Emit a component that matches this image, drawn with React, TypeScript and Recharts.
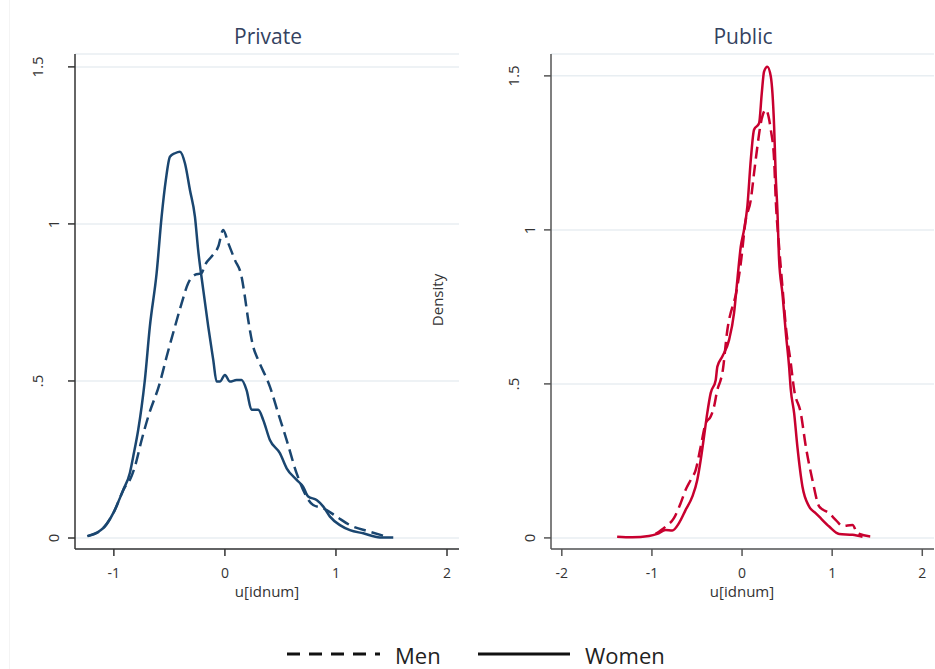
import React from "react";
import { LineChart, Line, XAxis, YAxis, CartesianGrid } from "recharts";

// kernel density estimates of u[idnum], [x, density]
const privateWomen: [number, number][] = [
	[-1.24, 0.006], [-1.126, 0.023], [-1.081, 0.036], [-1.006, 0.079], [-0.916, 0.153],
	[-0.856, 0.207], [-0.826, 0.259], [-0.781, 0.344], [-0.75, 0.418], [-0.721, 0.503],
	[-0.676, 0.673], [-0.615, 0.843], [-0.57, 1.023], [-0.532, 1.14], [-0.495, 1.214],
	[-0.45, 1.225], [-0.405, 1.23], [-0.36, 1.193], [-0.315, 1.108], [-0.27, 1.023],
	[-0.241, 0.917], [-0.195, 0.79], [-0.15, 0.673], [-0.105, 0.567], [-0.075, 0.498],
	[-0.045, 0.498], [0, 0.519], [0.045, 0.498], [0.105, 0.503], [0.15, 0.503],
	[0.195, 0.471], [0.24, 0.408], [0.3, 0.408], [0.345, 0.376], [0.405, 0.312],
	[0.495, 0.27], [0.556, 0.222], [0.646, 0.185], [0.705, 0.163], [0.75, 0.132],
	[0.826, 0.121], [0.886, 0.1], [0.946, 0.068], [1.036, 0.041], [1.126, 0.025],
	[1.246, 0.015], [1.396, 0.002], [1.516, 0.002],
];

const privateMen: [number, number][] = [
	[-1.234, 0.006], [-1.126, 0.022], [-1.009, 0.076], [-0.901, 0.162], [-0.856, 0.185],
	[-0.811, 0.227], [-0.75, 0.312], [-0.691, 0.386], [-0.586, 0.494], [-0.525, 0.577],
	[-0.45, 0.673], [-0.39, 0.747], [-0.331, 0.811], [-0.27, 0.838], [-0.21, 0.843],
	[-0.18, 0.869], [-0.12, 0.896], [-0.06, 0.928], [-0.015, 0.981], [0.03, 0.939],
	[0.09, 0.885], [0.15, 0.832], [0.18, 0.768], [0.21, 0.694], [0.255, 0.609],
	[0.3, 0.567], [0.405, 0.482], [0.48, 0.397], [0.556, 0.312], [0.646, 0.206],
	[0.795, 0.105], [0.886, 0.095], [1.006, 0.068], [1.126, 0.041], [1.306, 0.02],
	[1.457, 0.004],
];

const publicWomen: [number, number][] = [
	[-1.386, 0.004], [-1.219, 0.002], [-1.033, 0.006], [-0.941, 0.013], [-0.848, 0.026],
	[-0.774, 0.024], [-0.7, 0.048], [-0.626, 0.091], [-0.552, 0.134], [-0.497, 0.188],
	[-0.459, 0.253], [-0.422, 0.329], [-0.386, 0.405], [-0.348, 0.47], [-0.292, 0.513],
	[-0.274, 0.556], [-0.219, 0.589], [-0.144, 0.643], [-0.089, 0.73], [-0.052, 0.838],
	[-0.014, 0.946], [0.022, 1.0], [0.059, 1.076], [0.097, 1.227], [0.133, 1.325],
	[0.189, 1.346], [0.219, 1.444], [0.244, 1.514], [0.281, 1.53], [0.319, 1.498],
	[0.356, 1.335], [0.374, 1.173], [0.392, 1.065], [0.411, 0.903], [0.448, 0.794],
	[0.486, 0.665], [0.522, 0.556], [0.541, 0.481], [0.578, 0.405], [0.614, 0.296],
	[0.67, 0.167], [0.744, 0.102], [0.819, 0.08], [0.856, 0.069], [0.967, 0.037],
	[1.078, 0.013], [1.226, 0.01], [1.337, 0.004],
];

const publicMen: [number, number][] = [
	[-0.959, 0.013], [-0.848, 0.037], [-0.756, 0.064], [-0.681, 0.113], [-0.626, 0.156],
	[-0.57, 0.188], [-0.514, 0.221], [-0.459, 0.296], [-0.403, 0.372], [-0.348, 0.394],
	[-0.311, 0.426], [-0.274, 0.481], [-0.237, 0.513], [-0.219, 0.535], [-0.163, 0.675],
	[-0.052, 0.816], [-0.014, 0.892], [0.041, 1.032], [0.097, 1.097], [0.133, 1.184],
	[0.17, 1.27], [0.208, 1.346], [0.263, 1.39], [0.319, 1.325], [0.356, 1.227],
	[0.374, 1.097], [0.411, 0.946], [0.448, 0.816], [0.486, 0.686], [0.541, 0.567],
	[0.578, 0.481], [0.652, 0.405], [0.708, 0.296], [0.781, 0.188], [0.856, 0.102],
	[0.967, 0.08], [1.041, 0.058], [1.114, 0.039], [1.226, 0.042], [1.281, 0.015],
	[1.448, 0.004],
];

const yTicks = [0, 0.5, 1, 1.5];
const privateXTicks = [-1, 0, 1, 2];
const publicXTicks = [-2, -1, 0, 1, 2];

const FONT = "'Open Sans', 'Noto Sans', sans-serif";
const NAVY = "#1a4670";
const RED = "#c8002f";
const GRID = "#e8eef2";

const toPoints = (s: [number, number][]) => s.map(([x, y]) => ({ x, y }));

const fmtY = (v: number) => (v === 0 ? "0" : v === 0.5 ? ".5" : String(v));

// y labels sit rotated next to the axis; longer labels are pushed further out
const YTick = ({ x, y, payload }: any) => {
	const label = fmtY(payload.value);
	const cx = x - (label.length > 1 ? 29 : 13);
	return (
		<text
			x={cx}
			y={y}
			transform={`rotate(-90, ${cx}, ${y})`}
			textAnchor="middle"
			dominantBaseline="central"
			fontFamily={FONT}
			fontSize={15}
			fill="#333"
		>
			{label}
		</text>
	);
};

const XTick = ({ x, y, payload }: any) => (
	<text x={x} y={y + 20} textAnchor="middle" fontFamily={FONT} fontSize={14} fill="#333">
		{payload.value}
	</text>
);

type PanelProps = {
	left: number;
	width: number;
	marginLeft: number;
	xDomain: [number, number];
	yDomain: [number, number];
	xTicks: number[];
	men: [number, number][];
	women: [number, number][];
	color: string;
	axisColor: string;
};

const Panel = ({ left, width, marginLeft, xDomain, yDomain, xTicks, men, women, color, axisColor }: PanelProps) => (
	<div style={{ position: "absolute", left, top: 0 }}>
		<LineChart width={width} height={669} margin={{ top: 54, right: 1, bottom: 90, left: marginLeft }}>
			<CartesianGrid vertical={false} stroke={GRID} strokeWidth={1.5} />
			<XAxis
				type="number"
				dataKey="x"
				domain={xDomain}
				ticks={xTicks}
				allowDataOverflow
				height={30}
				tickSize={7}
				stroke={axisColor}
				strokeWidth={1.5}
				tick={<XTick />}
			/>
			<YAxis
				type="number"
				dataKey="y"
				domain={yDomain}
				ticks={yTicks}
				allowDataOverflow
				width={40}
				tickSize={7}
				stroke={axisColor}
				strokeWidth={1.5}
				tick={<YTick />}
			/>
			<Line
				data={toPoints(men)}
				dataKey="y"
				type="monotone"
				stroke={color}
				strokeWidth={2.5}
				strokeDasharray="12 6"
				dot={false}
				isAnimationActive={false}
			/>
			<Line
				data={toPoints(women)}
				dataKey="y"
				type="monotone"
				stroke={color}
				strokeWidth={2.5}
				dot={false}
				isAnimationActive={false}
			/>
		</LineChart>
	</div>
);

const App = () => {
	return (
		<div
			style={{
				position: "absolute",
				left: 0,
				top: 0,
				width: 935,
				height: 669,
				background: "#fff",
				overflow: "hidden",
			}}
		>
			<div style={{ position: "absolute", left: 9, top: 0, width: 1, height: 669, background: "#f4f4f4" }} />
			<Panel
				left={0}
				width={460}
				marginLeft={35}
				xDomain={[-1.35, 2.108]}
				yDomain={[-0.035, 1.541]}
				xTicks={privateXTicks}
				men={privateMen}
				women={privateWomen}
				color={NAVY}
				axisColor="#333"
			/>
			<Panel
				left={470}
				width={465}
				marginLeft={41}
				xDomain={[-2.12, 2.13]}
				yDomain={[-0.036, 1.571]}
				xTicks={publicXTicks}
				men={publicMen}
				women={publicWomen}
				color={RED}
				axisColor="#555"
			/>
			<svg
				width={935}
				height={669}
				style={{ position: "absolute", left: 0, top: 0, pointerEvents: "none" }}
				fontFamily={FONT}
			>
				<text x={268} y={44} textAnchor="middle" fontSize={21} fill="#34425f">
					Private
				</text>
				<text x={743} y={44} textAnchor="middle" fontSize={21} fill="#34425f">
					Public
				</text>
				<text x={267} y={597} textAnchor="middle" fontSize={15} fill="#333">
					u[idnum]
				</text>
				<text x={742} y={597} textAnchor="middle" fontSize={15} fill="#333">
					u[idnum]
				</text>
				<text
					x={437}
					y={300}
					transform="rotate(-90, 437, 300)"
					textAnchor="middle"
					dominantBaseline="central"
					fontSize={15}
					fill="#333"
				>
					Density
				</text>
				<line x1={287} y1={654} x2={380} y2={654} stroke="#111" strokeWidth={3} strokeDasharray="13 9" />
				<text x={395} y={664} fontSize={22} fill="#222">
					Men
				</text>
				<line x1={478} y1={654} x2={570} y2={654} stroke="#111" strokeWidth={3} />
				<text x={585} y={664} fontSize={22} fill="#222">
					Women
				</text>
			</svg>
		</div>
	);
};

export default App;
